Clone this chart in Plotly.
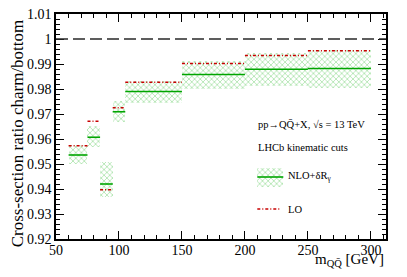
import plotly.graph_objects as go

# ---- data ----
bin_edges = [60, 75, 85, 95, 105, 150, 200, 250, 300]
nlo_central = [0.9536, 0.9607, 0.9420, 0.9709, 0.9790, 0.9858, 0.9879, 0.9882]
nlo_band_hi = [0.9575, 0.9651, 0.9508, 0.9752, 0.9834, 0.9913, 0.9943, 0.9957]
nlo_band_lo = [0.9502, 0.9570, 0.9370, 0.9667, 0.9745, 0.9802, 0.9812, 0.9804]
lo_values = [0.9573, 0.9671, 0.9397, 0.9725, 0.9827, 0.9902, 0.9934, 0.9953]
y_tick_vals = [0.92, 0.93, 0.94, 0.95, 0.96, 0.97, 0.98, 0.99, 1.00, 1.01]
y_tick_text = ["0.92", "0.93", "0.94", "0.95", "0.96", "0.97", "0.98", "0.99", "1", "1.01"]
x_tick_vals = [50, 100, 150, 200, 250, 300]

FONT = "Liberation Serif"
GREEN = "rgb(0,165,0)"
HATCH = "rgb(105,205,105)"
RED = "rgb(200,0,0)"
PATTERN = dict(shape="x", fgcolor=HATCH, bgcolor="rgba(0,0,0,0)", size=4, solidity=0.4)

# page body has an 8px default margin: compensate so the plot lands where intended
OFF = 8
WIN_W, WIN_H = 407, 277

lefts = bin_edges[:-1]
rights = bin_edges[1:]
centers = [(a + b) / 2 for a, b in zip(lefts, rights)]
widths = [b - a for a, b in zip(lefts, rights)]

def step_segments(vals):
    xs, ys = [], []
    for a, b, v in zip(lefts, rights, vals):
        xs += [a, b, None]
        ys += [v, v, None]
    return xs, ys

fig = go.Figure()

# hatched uncertainty band
fig.add_trace(go.Bar(
    x=centers, y=[h - l for h, l in zip(nlo_band_hi, nlo_band_lo)], base=nlo_band_lo,
    width=widths,
    marker=dict(color="rgba(0,0,0,0)", line=dict(width=0), pattern=PATTERN),
    showlegend=False, hoverinfo="skip"))

xs, ys = step_segments(nlo_central)
fig.add_trace(go.Scatter(x=xs, y=ys, mode="lines",
                         line=dict(color=GREEN, width=1.6), showlegend=False))
xs, ys = step_segments(lo_values)
fig.add_trace(go.Scatter(x=xs, y=ys, mode="lines",
                         line=dict(color=RED, width=1.4, dash="3px,2px,1px,2px"),
                         showlegend=False))

# ---- overlay pixel-coordinate axes (window pixels) for legend ----
PX0, PX1, PY0, PY1 = 55.7, 385.7, 14, 239
fig.add_trace(go.Bar(
    x=[(257 + 283) / 2], y=[187 - 168], base=[168], width=[283 - 257],
    xaxis="x2", yaxis="y2",
    marker=dict(color="rgba(0,0,0,0)", line=dict(width=0), pattern=PATTERN),
    showlegend=False, hoverinfo="skip"))
fig.add_trace(go.Scatter(x=[257, 283], y=[177, 177], mode="lines", xaxis="x2", yaxis="y2",
                         line=dict(color=GREEN, width=1.6), showlegend=False))
fig.add_trace(go.Scatter(x=[257, 280], y=[209, 209], mode="lines", xaxis="x2", yaxis="y2",
                         line=dict(color=RED, width=1.4, dash="3px,2px,1px,2px"),
                         showlegend=False))

def to_paper(px, py):
    return (px - PX0) / (PX1 - PX0), (PY1 - py) / (PY1 - PY0)

def ann(x, y, text, size, xanchor="left", yanchor="middle", textangle=0):
    xp, yp = to_paper(x, y)
    fig.add_annotation(x=xp, y=yp, xref="paper", yref="paper", text=text, showarrow=False,
                       xanchor=xanchor, yanchor=yanchor, textangle=textangle,
                       font=dict(family=FONT, size=size, color="black"))

ann(256, 125, "pp→QQ\u0304+X, \u221As = 13 TeV", 10.5)
ann(256, 147, "LHCb kinematic cuts", 10.5)
ann(286, 176, "NLO+δR<sub>γ</sub>", 10.5)
ann(286, 209, "LO", 10.5)
ann(386, 259.5, "m<sub>QQ\u0304</sub> [GeV]", 15, xanchor="right")
ann(17, 133, "Cross-section ratio charm/bottom", 17, xanchor="center", textangle=-90)

# dashed line at ratio = 1
fig.add_shape(type="line", xref="x", yref="y", x0=50, x1=312, y0=1.0, y1=1.0,
              line=dict(color="rgb(40,40,40)", width=1.6, dash="12px,5px"))

axis_common = dict(showgrid=False, zeroline=False, showline=True, linecolor="black",
                   linewidth=1.5, mirror="ticks", ticks="inside", tickcolor="black",
                   tickwidth=1.2, ticklen=8, automargin=False, ticklabeloverflow="allow",
                   tickfont=dict(family=FONT, size=14, color="black"))

fig.update_layout(
    width=WIN_W - OFF, height=WIN_H - OFF,
    margin=dict(l=PX0 - OFF, r=WIN_W - PX1, t=PY0 - OFF, b=WIN_H - PY1, pad=0),
    paper_bgcolor="white", plot_bgcolor="white",
    barmode="overlay", bargap=0,
    xaxis=dict(range=[50, 312], tickvals=x_tick_vals, ticklabelstandoff=-3,
               minor=dict(dtick=10, tick0=50, ticklen=4, ticks="inside", tickcolor="black"),
               **axis_common),
    yaxis=dict(range=[0.92, 1.01], tickvals=y_tick_vals, ticktext=y_tick_text,
               minor=dict(dtick=0.002, tick0=0.92, ticklen=4, ticks="inside", tickcolor="black"),
               **axis_common),
    xaxis2=dict(range=[PX0, PX1], overlaying="x", visible=False, fixedrange=True),
    yaxis2=dict(range=[PY1, PY0], overlaying="y", visible=False, fixedrange=True),
)

fig.write_html("out.html")
